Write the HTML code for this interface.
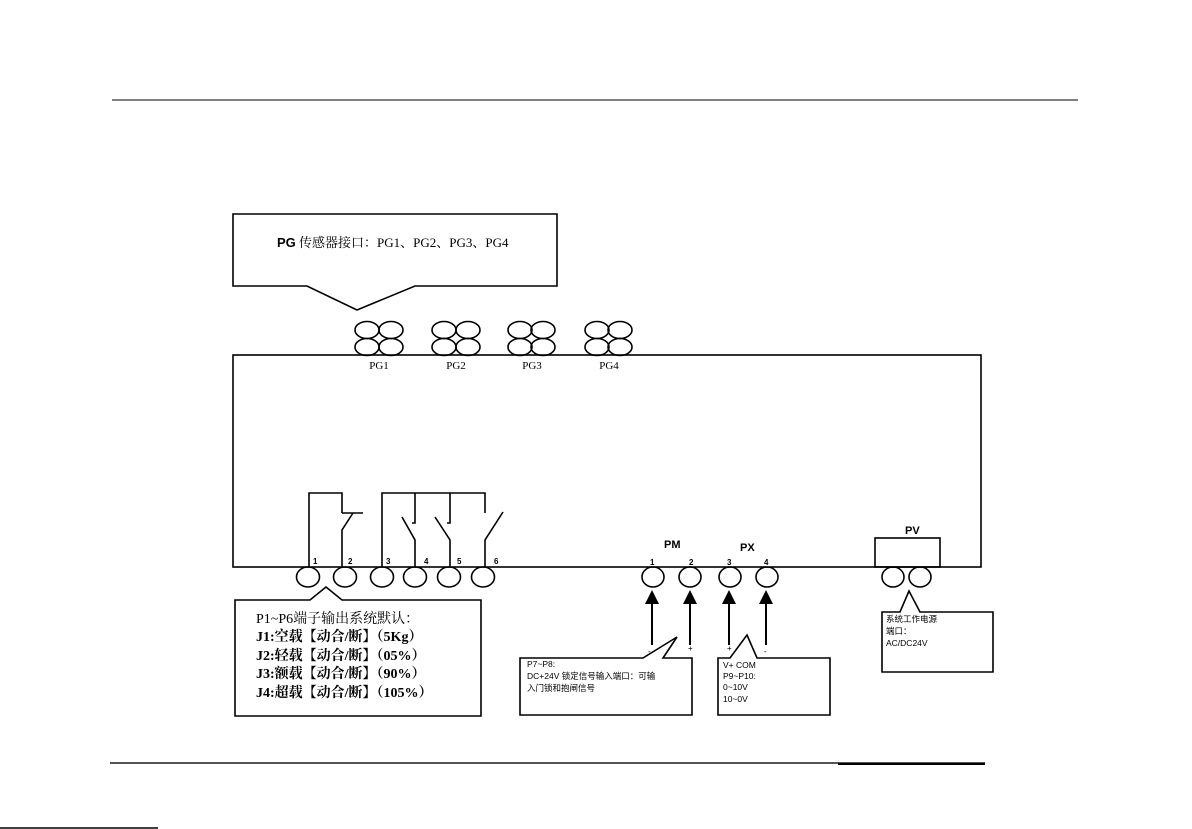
<!DOCTYPE html>
<html><head><meta charset="utf-8"><style>
html,body{margin:0;padding:0;background:#fff;}
svg{display:block;}
.s{font-family:"Liberation Serif","Noto Serif CJK SC",serif;}
.a{font-family:"Liberation Sans","Noto Sans CJK SC",sans-serif;}
</style></head><body>
<svg width="1192" height="829" viewBox="0 0 1192 829" xmlns="http://www.w3.org/2000/svg" fill="none" stroke="#000" stroke-width="1.6">
<line x1="112" y1="100" x2="1078" y2="100" stroke-width="1"/>
<line x1="110" y1="763" x2="985" y2="763" stroke="#555" stroke-width="2"/>
<line x1="838" y1="764" x2="985" y2="764" stroke="#000" stroke-width="2"/>
<line x1="0" y1="828" x2="158" y2="828" stroke-width="1.5"/>

<rect x="233" y="355" width="748" height="212"/>

<path d="M307 286 L233 286 L233 214 L557 214 L557 286 L415 286 L357 310 Z" fill="#fff"/>
<text x="277" y="247" class="s" fill="#000" stroke="none" font-size="13"><tspan class="a" font-weight="bold">PG</tspan> 传感器接口：PG1、PG2、PG3、PG4</text>

<g>
<ellipse cx="367" cy="330" rx="12" ry="8.5"/><ellipse cx="391" cy="330" rx="12" ry="8.5"/>
<ellipse cx="367" cy="347" rx="12" ry="8.5"/><ellipse cx="391" cy="347" rx="12" ry="8.5"/>
<ellipse cx="444" cy="330" rx="12" ry="8.5"/><ellipse cx="468" cy="330" rx="12" ry="8.5"/>
<ellipse cx="444" cy="347" rx="12" ry="8.5"/><ellipse cx="468" cy="347" rx="12" ry="8.5"/>
<ellipse cx="520" cy="330" rx="12" ry="8.5"/><ellipse cx="543" cy="330" rx="12" ry="8.5"/>
<ellipse cx="520" cy="347" rx="12" ry="8.5"/><ellipse cx="543" cy="347" rx="12" ry="8.5"/>
<ellipse cx="597" cy="330" rx="12" ry="8.5"/><ellipse cx="620" cy="330" rx="12" ry="8.5"/>
<ellipse cx="597" cy="347" rx="12" ry="8.5"/><ellipse cx="620" cy="347" rx="12" ry="8.5"/>
</g>
<g class="s" fill="#000" stroke="none" font-size="11" text-anchor="middle">
<text x="379" y="369">PG1</text><text x="456" y="369">PG2</text><text x="532" y="369">PG3</text><text x="609" y="369">PG4</text>
</g>

<path d="M309 567 L309 493 L342 493 L342 513"/>
<line x1="342" y1="513" x2="363" y2="513"/>
<path d="M353 513 L342 530 L342 567"/>
<path d="M382 567 L382 493 L485 493 L485 513"/>
<path d="M415 493 L415 523 L412 523"/>
<path d="M450 493 L450 523 L447 523"/>
<path d="M402 517 L415 540 L415 567"/>
<path d="M435 517 L450 540 L450 567"/>
<path d="M503 512 L485 540 L485 567"/>

<g class="a" fill="#000" stroke="none" font-size="8" font-weight="bold">
<text x="313" y="564">1</text><text x="348" y="564">2</text><text x="386" y="564">3</text><text x="424" y="564">4</text><text x="457" y="564">5</text><text x="494" y="564">6</text>
</g>
<g>
<ellipse cx="308" cy="577" rx="11.5" ry="10"/><ellipse cx="345" cy="577" rx="11.5" ry="10"/>
<ellipse cx="382" cy="577" rx="11.5" ry="10"/><ellipse cx="415" cy="577" rx="11.5" ry="10"/>
<ellipse cx="449" cy="577" rx="11.5" ry="10"/><ellipse cx="483" cy="577" rx="11.5" ry="10"/>
</g>

<path d="M310 600 L235 600 L235 716 L481 716 L481 600 L342 600 L326 587 Z" fill="#fff"/>
<g class="s" fill="#000" stroke="none" font-size="14">
<text x="256" y="623">P1~P6端子输出系统默认：</text>
<text x="256" y="641" font-weight="bold">J1:空载【动合/断】（5Kg）</text>
<text x="256" y="660" font-weight="bold">J2:轻载【动合/断】（05%）</text>
<text x="256" y="678" font-weight="bold">J3:额载【动合/断】（90%）</text>
<text x="256" y="697" font-weight="bold">J4:超载【动合/断】（105%）</text>
</g>

<g class="a" fill="#000" stroke="none" font-weight="bold">
<text x="664" y="548" font-size="11">PM</text>
<text x="740" y="551" font-size="11">PX</text>
<text x="905" y="534" font-size="11">PV</text>
<text x="650" y="565" font-size="8">1</text><text x="689" y="565" font-size="8">2</text><text x="727" y="565" font-size="8">3</text><text x="764" y="565" font-size="8">4</text>
</g>
<ellipse cx="653" cy="577" rx="11" ry="10"/><ellipse cx="690" cy="577" rx="11" ry="10"/>
<ellipse cx="730" cy="577" rx="11" ry="10"/><ellipse cx="767" cy="577" rx="11" ry="10"/>
<g stroke-width="2">
<line x1="652" y1="645" x2="652" y2="602"/><line x1="690" y1="645" x2="690" y2="602"/>
<line x1="729" y1="645" x2="729" y2="602"/><line x1="766" y1="645" x2="766" y2="602"/>
</g>
<g fill="#000" stroke="none">
<path d="M652 590 L645 604 L659 604 Z"/><path d="M690 590 L683 604 L697 604 Z"/>
<path d="M729 590 L722 604 L736 604 Z"/><path d="M766 590 L759 604 L773 604 Z"/>
</g>
<g class="a" fill="#000" stroke="none" font-size="8">
<text x="648" y="654">-</text><text x="688" y="651">+</text><text x="727" y="651">+</text><text x="764" y="654">-</text>
</g>

<path d="M643 658 L520 658 L520 715 L692 715 L692 658 L663 658 L677 637 Z" fill="#fff"/>
<g class="a" fill="#000" stroke="none" font-size="8.5">
<text x="527" y="667">P7~P8:</text>
<text x="527" y="679">DC+24V 锁定信号输入端口：可输</text>
<text x="527" y="691">入门锁和抱闸信号</text>
</g>
<path d="M730 658 L718 658 L718 715 L830 715 L830 658 L757 658 L747 635 Z" fill="#fff"/>
<g class="a" fill="#000" stroke="none" font-size="8.5">
<text x="723" y="668">V+ COM</text>
<text x="723" y="679">P9~P10:</text>
<text x="723" y="690">0~10V</text>
<text x="723" y="702">10~0V</text>
</g>

<rect x="875" y="538" width="65" height="29"/>
<ellipse cx="893" cy="577" rx="11" ry="10"/><ellipse cx="920" cy="577" rx="11" ry="10"/>
<path d="M900 612 L882 612 L882 672 L993 672 L993 612 L920 612 L909 591 Z" fill="#fff"/>
<g class="a" fill="#000" stroke="none" font-size="8.5">
<text x="886" y="622">系统工作电源</text>
<text x="886" y="634">端口：</text>
<text x="886" y="646">AC/DC24V</text>
</g>
</svg>
</body></html>
